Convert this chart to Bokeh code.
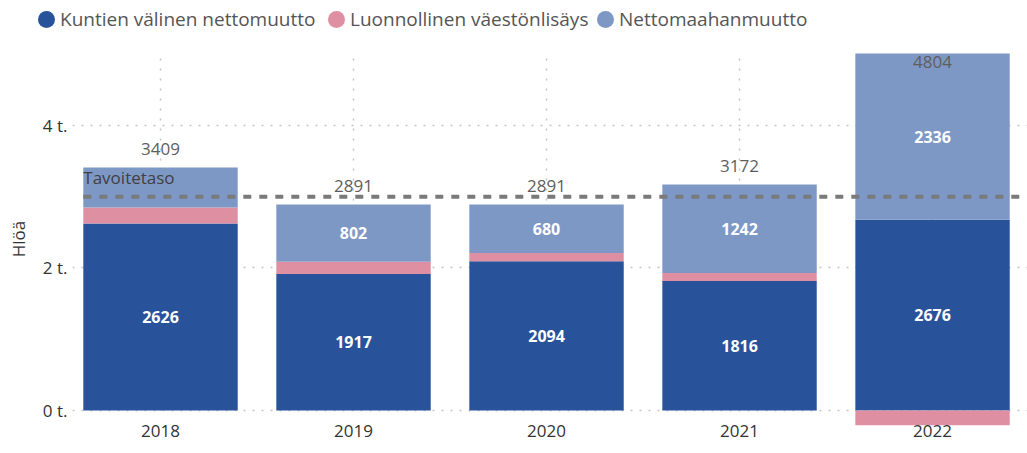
from bokeh.plotting import figure
from bokeh.models import FixedTicker, Range1d, Div
from bokeh.layouts import column
from bokeh.core.properties import value
from bokeh.embed import file_html
from bokeh.resources import INLINE

# ---- data ----
years = ["2018", "2019", "2020", "2021", "2022"]
kuntien = [2626, 1917, 2094, 1816, 2676]
luonnollinen = [223, 172, 117, 114, -208]
maahanmuutto = [560, 802, 680, 1242, 2336]
totals = [3409, 2891, 2891, 3172, 4804]
series_names = ["Kuntien välinen nettomuutto", "Luonnollinen väestönlisäys", "Nettomaahanmuutto"]
target = 3000
target_label = "Tavoitetaso"
y_ticks = [0, 2000, 4000]
y_tick_labels = ["0 t.", "2 t.", "4 t."]
y_title = "Hlöä"

# ---- style ----
FONT = "Open Sans"
colors = ["#28539A", "#DF8FA2", "#7E98C6"]
BAR_W = 0.8
X_START, X_END = -0.456, 4.492
Y_START, Y_END = -225, 5039
GRID_TOP = 5000
W = 1027
LEG_H = 40
MAIN_H = 413
LEG_ITEM_W = [290, 269, 230]

n = len(years)
xs = list(range(n))

# ---- legend strip (HTML) ----
entries = "".join(
    f'<span style="display:inline-flex;align-items:center;width:{w}px;white-space:nowrap">'
    f'<span style="display:inline-block;width:17px;height:17px;border-radius:50%;'
    f'background:{c};margin-right:5px;flex:none"></span>{name}</span>'
    for name, c, w in zip(series_names, colors, LEG_ITEM_W)
)
legend_div = Div(
    text=(f'<div style="display:flex;align-items:center;height:{LEG_H}px;padding-left:38px;'
          f'font-family:\'{FONT}\';font-size:19px;color:#555555;white-space:nowrap">{entries}</div>'),
    width=W, height=LEG_H, margin=0)

# ---- main chart ----
p = figure(width=W, height=MAIN_H,
           x_range=Range1d(X_START, X_END), y_range=Range1d(Y_START, Y_END),
           output_backend="svg", toolbar_location=None,
           min_border_left=72, min_border_right=0, min_border_top=11, min_border_bottom=27)
p.outline_line_color = None

# grids
p.ygrid.grid_line_color = "#c4c4c4"
p.ygrid.grid_line_dash = "2 7"
p.ygrid.grid_line_width = 1.5
p.xgrid.grid_line_color = "#c4c4c4"
p.xgrid.grid_line_dash = "2 8"
p.xgrid.grid_line_width = 1.5
p.xgrid.cross_bounds = (0, GRID_TOP)

# stacked bars (positive and negative stacks separately)
pos = [0] * n
neg = [0] * n
for name, vals, col in zip(series_names, [kuntien, luonnollinen, maahanmuutto], colors):
    bottoms, tops = [], []
    for i, v in enumerate(vals):
        if v >= 0:
            b = pos[i]; t = b + v; pos[i] = t
        else:
            b = neg[i]; t = b + v; neg[i] = t
        bottoms.append(b); tops.append(t)
    p.vbar(x=xs, bottom=bottoms, top=tops, width=BAR_W, fill_color=col, line_color=None)
    lx, ly, lt = [], [], []
    for i, v in enumerate(vals):
        if abs(v) >= 600:
            lx.append(xs[i]); ly.append((bottoms[i] + tops[i]) / 2); lt.append(str(v))
    if lx:
        p.text(x=lx, y=ly, text=lt, text_align="center", text_baseline="middle",
               text_color="white", text_font=value(FONT), text_font_style="bold",
               text_font_size="16px")

# target line
p.segment(x0=[xs[0] - BAR_W / 2], y0=[target], x1=[X_END], y1=[target],
          line_color="#7a7a7a", line_width=4, line_dash="8 8")
p.text(x=[xs[0] - BAR_W / 2], y=[target], text=[target_label], text_align="left",
       text_baseline="middle", y_offset=-19, text_color="#404040",
       text_font=value(FONT), text_font_size="17px")

# total labels
label_cap = GRID_TOP - 380
p.text(x=xs, y=[min(t, label_cap) for t in totals], text=[str(t) for t in totals],
       text_align="center", text_baseline="middle", y_offset=-19,
       text_color="#605E5C", text_font=value(FONT), text_font_size="17px")

# axes
p.xaxis.ticker = FixedTicker(ticks=xs)
p.xaxis.major_label_overrides = {i: y for i, y in enumerate(years)}
p.xaxis.axis_line_color = None
p.xaxis.major_tick_line_color = None
p.xaxis.minor_tick_line_color = None
p.xaxis.major_tick_out = 0
p.xaxis.major_label_standoff = -2
p.xaxis.major_label_text_font = FONT
p.xaxis.major_label_text_font_size = "17px"
p.xaxis.major_label_text_color = "#333333"

p.yaxis.ticker = FixedTicker(ticks=y_ticks)
p.yaxis.major_label_overrides = dict(zip(y_ticks, y_tick_labels))
p.yaxis.axis_line_color = None
p.yaxis.major_tick_line_color = None
p.yaxis.minor_tick_line_color = None
p.yaxis.major_tick_out = 0
p.yaxis.major_label_standoff = 5
p.yaxis.major_label_text_font = FONT
p.yaxis.major_label_text_font_size = "17px"
p.yaxis.major_label_text_color = "#333333"
p.yaxis.axis_label = y_title
p.yaxis.axis_label_text_font = FONT
p.yaxis.axis_label_text_font_size = "17px"
p.yaxis.axis_label_text_font_style = "normal"
p.yaxis.axis_label_text_color = "#333333"
p.yaxis.axis_label_standoff = 10

layout = column(legend_div, p, spacing=0)
open("out.html", "w").write(file_html(layout, INLINE))
